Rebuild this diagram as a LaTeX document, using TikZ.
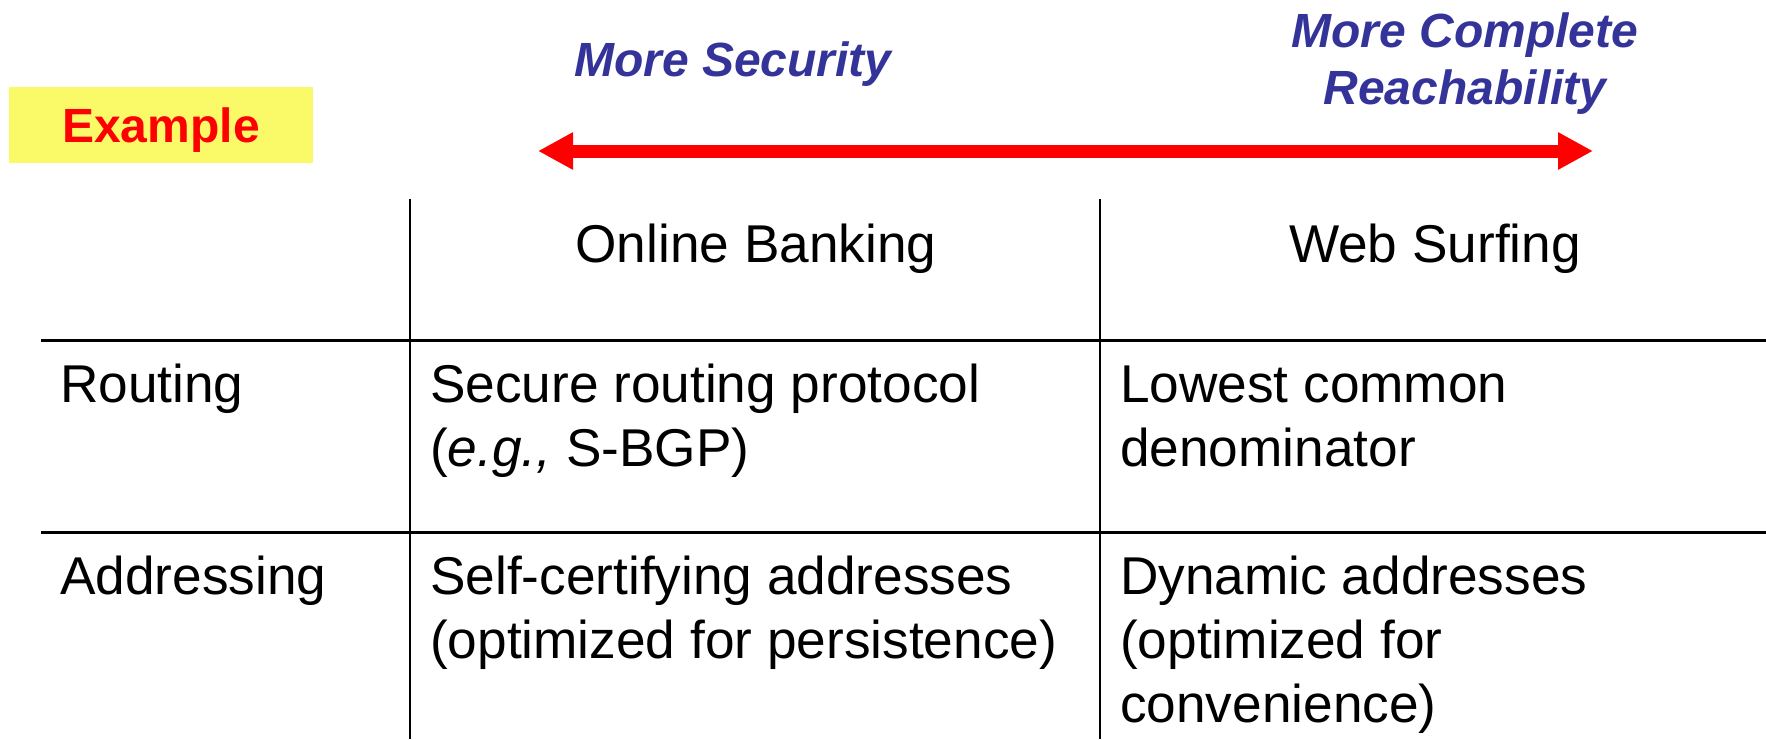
\documentclass[tikz,border=0pt]{standalone}
\usepackage{fontspec}
\setmainfont{Liberation Sans}
\usetikzlibrary{arrows.meta}
\definecolor{hdrblue}{RGB}{51,51,153}
\definecolor{exyellow}{RGB}{250,250,105}
\definecolor{exred}{RGB}{255,0,0}
\newcommand\celllines[1]{\begin{tabular}[t]{@{}l@{}}#1\end{tabular}}
\newcommand\centerlines[1]{\begin{tabular}[t]{@{}c@{}}#1\end{tabular}}
\tikzset{
  celltext/.style={anchor=base west, inner sep=0pt, font=\fontsize{53.2}{64}\selectfont},
  headtext/.style={anchor=base, inner sep=0pt, font=\fontsize{53.2}{64}\selectfont},
  dirlabel/.style={anchor=base, inner sep=0pt, text=hdrblue, font=\fontsize{48}{57}\selectfont\bfseries\itshape},
  gridh/.style={line width=3pt, black},
  gridv/.style={line width=2.5pt, black},
  bigarrow/.style={exred, line width=13pt, {Triangle[length=35pt,width=35pt]}-{Triangle[length=35pt,width=35pt]}},
  examplebox/.style={fill=exyellow, minimum width=304pt, minimum height=76pt, inner sep=0pt,
    text height=34.4pt, text depth=0pt, text=exred, font=\fontsize{48}{57}\selectfont\bfseries},
}
\begin{document}
\begin{tikzpicture}[x=1pt, y=-1pt]
  \useasboundingbox (0,0) rectangle (1766,739);

  % Example tag
  \node[examplebox] (example) at (161,125) {Example};

  % direction labels and arrow
  \node[dirlabel] (security) at (733,76) {More Security};
  \node[dirlabel] (reach) at (1465,47) {\centerlines{More Complete\\Reachability}};
  \coordinate (arrL) at (538,151);
  \coordinate (arrR) at (1593,151);
  \draw[bigarrow] (arrL) -- (arrR);

  % table grid
  \draw[gridv] (410,199) -- (410,739);
  \draw[gridv] (1100,199) -- (1100,739);
  \draw[gridh] (41,340) -- (1766,340);
  \draw[gridh] (41,532) -- (1766,532);

  % header row
  \node[headtext] (banking) at (756,262) {Online Banking};
  \node[headtext] (surfing) at (1435,262) {Web Surfing};

  % routing row
  \node[celltext] (routing) at (60,402) {Routing};
  \node[celltext] (routebank) at (430,402) {\celllines{Secure routing protocol\\(\textit{e.g.,} S-BGP)}};
  \node[celltext] (routesurf) at (1120,402) {\celllines{Lowest common\\denominator}};

  % addressing row
  \node[celltext] (addressing) at (60,594) {Addressing};
  \node[celltext] (addrbank) at (430,594) {\celllines{Self-certifying addresses\\(optimized for persistence)}};
  \node[celltext] (addrsurf) at (1120,594) {\celllines{Dynamic addresses\\(optimized for\\convenience)}};
\end{tikzpicture}
\end{document}
